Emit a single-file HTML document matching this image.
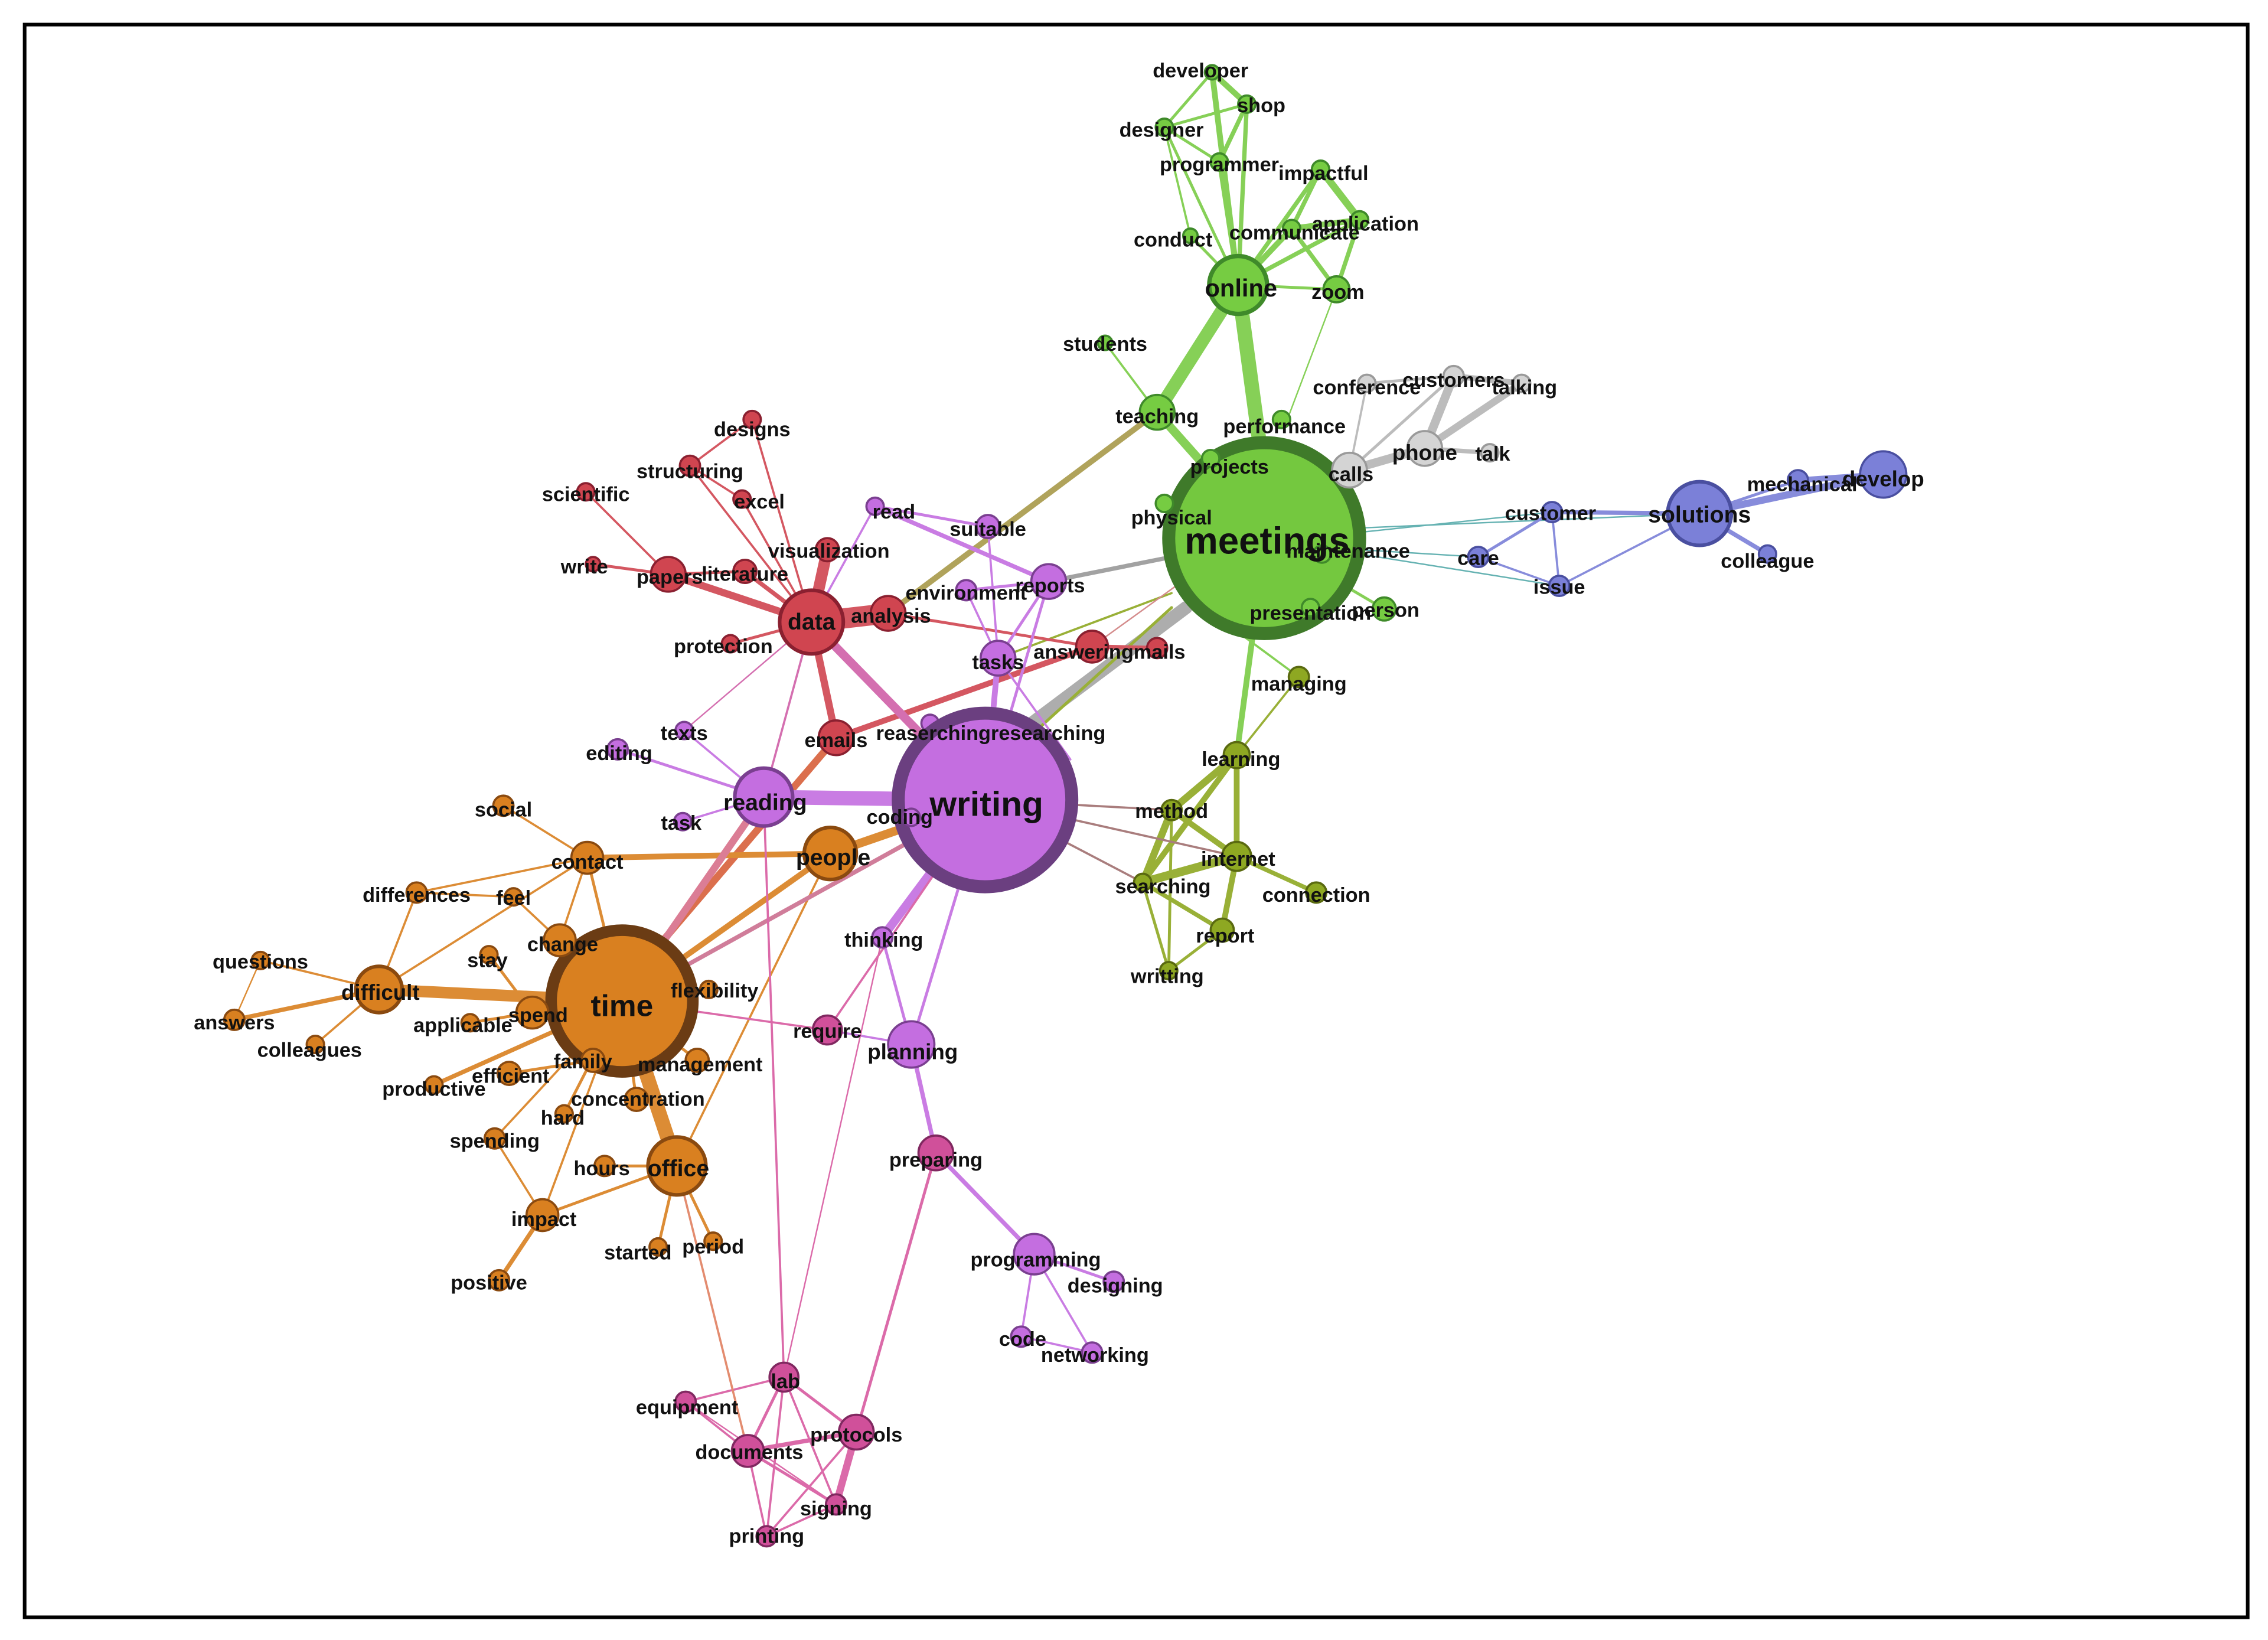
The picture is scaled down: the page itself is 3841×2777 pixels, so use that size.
<!DOCTYPE html>
<html><head><meta charset="utf-8"><style>
html,body{margin:0;padding:0;background:#fff;}
svg{display:block}
text{font-family:"Liberation Sans",Arial,sans-serif;font-weight:bold;fill:#111;text-anchor:middle;dominant-baseline:central;font-size:14px}
</style></head><body>
<svg width="3841" height="2777" viewBox="0 0 1568 1133.7" xmlns="http://www.w3.org/2000/svg">
<rect x="0" y="0" width="1568" height="1134" fill="#fff"/>
<rect x="17" y="17" width="1537" height="1101" fill="none" stroke="#000" stroke-width="2.5"/>
<g stroke-linecap="round" fill="none" opacity="0.9">
<!-- green -->
<g stroke="#7acc45">
<line x1="856" y1="197" x2="874" y2="330" stroke-width="10"/>
<line x1="856" y1="197" x2="800" y2="285" stroke-width="9"/>
<line x1="800" y1="285" x2="840" y2="330" stroke-width="6"/>
<line x1="856" y1="197" x2="838" y2="50" stroke-width="4"/>
<line x1="856" y1="197" x2="862" y2="72" stroke-width="3"/>
<line x1="856" y1="197" x2="843" y2="112" stroke-width="3"/>
<line x1="856" y1="197" x2="805" y2="88" stroke-width="2"/>
<line x1="838" y1="50" x2="862" y2="72" stroke-width="4"/>
<line x1="838" y1="50" x2="805" y2="88" stroke-width="2"/>
<line x1="805" y1="88" x2="843" y2="112" stroke-width="2"/>
<line x1="843" y1="112" x2="862" y2="72" stroke-width="3"/>
<line x1="805" y1="88" x2="862" y2="72" stroke-width="2"/>
<line x1="856" y1="197" x2="913" y2="117" stroke-width="3"/>
<line x1="913" y1="117" x2="940" y2="152" stroke-width="5"/>
<line x1="913" y1="117" x2="893" y2="158" stroke-width="3"/>
<line x1="940" y1="152" x2="893" y2="158" stroke-width="4"/>
<line x1="940" y1="152" x2="924" y2="200" stroke-width="3"/>
<line x1="893" y1="158" x2="924" y2="200" stroke-width="3"/>
<line x1="856" y1="197" x2="893" y2="158" stroke-width="4"/>
<line x1="856" y1="197" x2="940" y2="152" stroke-width="3"/>
<line x1="856" y1="197" x2="924" y2="200" stroke-width="2"/>
<line x1="856" y1="197" x2="823" y2="163" stroke-width="2"/>
<line x1="823" y1="163" x2="805" y2="88" stroke-width="1.5"/>
<line x1="924" y1="200" x2="890" y2="290" stroke-width="1"/>
<line x1="764" y1="237" x2="800" y2="285" stroke-width="1.5"/>
<line x1="874" y1="372" x2="957" y2="421" stroke-width="2"/>
</g>
<line x1="800" y1="285" x2="614" y2="424" stroke="#a89a4a" stroke-width="4"/>
<!-- grey -->
<g stroke="#b5b5b5">
<line x1="820" y1="420" x2="700" y2="510" stroke-width="9" stroke="#a5a5a5"/>
<line x1="810" y1="385" x2="725" y2="402" stroke-width="3" stroke="#999"/>
<line x1="874" y1="372" x2="933" y2="325" stroke-width="7"/>
<line x1="933" y1="325" x2="985" y2="310" stroke-width="6"/>
<line x1="985" y1="310" x2="1005" y2="260" stroke-width="6"/>
<line x1="985" y1="310" x2="1030" y2="313" stroke-width="3"/>
<line x1="1005" y1="260" x2="1052" y2="265" stroke-width="4"/>
<line x1="985" y1="310" x2="1052" y2="265" stroke-width="5"/>
<line x1="1005" y1="260" x2="945" y2="265" stroke-width="2"/>
<line x1="933" y1="325" x2="945" y2="265" stroke-width="1.5"/>
<line x1="933" y1="325" x2="1005" y2="260" stroke-width="2"/>
</g>
<!-- blue -->
<g stroke="#7b80d8">
<line x1="940" y1="365" x2="1175" y2="355" stroke-width="1" stroke="#5aa"/>
<line x1="940" y1="368" x2="1073" y2="354" stroke-width="1" stroke="#5aa"/>
<line x1="940" y1="380" x2="1022" y2="385" stroke-width="1" stroke="#5aa"/>
<line x1="940" y1="383" x2="1078" y2="405" stroke-width="1" stroke="#5aa"/>
<line x1="1175" y1="355" x2="1302" y2="328" stroke-width="5"/>
<line x1="1175" y1="355" x2="1243" y2="332" stroke-width="2"/>
<line x1="1243" y1="332" x2="1302" y2="328" stroke-width="4"/>
<line x1="1175" y1="355" x2="1073" y2="354" stroke-width="3"/>
<line x1="1175" y1="355" x2="1222" y2="383" stroke-width="3"/>
<line x1="1175" y1="355" x2="1078" y2="405" stroke-width="1.5"/>
<line x1="1073" y1="354" x2="1022" y2="385" stroke-width="2"/>
<line x1="1073" y1="354" x2="1078" y2="405" stroke-width="1.5"/>
<line x1="1022" y1="385" x2="1078" y2="405" stroke-width="1.5"/>
</g>
<!-- olive -->
<g stroke="#8ea822">
<line x1="866" y1="440" x2="855" y2="522" stroke-width="4" stroke="#7acc45"/>
<line x1="860" y1="440" x2="898" y2="468" stroke-width="1.5" stroke="#7acc45"/>
<line x1="898" y1="468" x2="855" y2="522" stroke-width="1.5"/>
<line x1="855" y1="522" x2="810" y2="560" stroke-width="5"/>
<line x1="855" y1="522" x2="855" y2="592" stroke-width="4"/>
<line x1="855" y1="522" x2="790" y2="610" stroke-width="4"/>
<line x1="810" y1="560" x2="855" y2="592" stroke-width="4"/>
<line x1="810" y1="560" x2="790" y2="610" stroke-width="5"/>
<line x1="855" y1="592" x2="790" y2="610" stroke-width="6"/>
<line x1="855" y1="592" x2="910" y2="617" stroke-width="3"/>
<line x1="855" y1="592" x2="845" y2="643" stroke-width="4"/>
<line x1="790" y1="610" x2="845" y2="643" stroke-width="3"/>
<line x1="845" y1="643" x2="808" y2="671" stroke-width="2"/>
<line x1="790" y1="610" x2="808" y2="671" stroke-width="2"/>
<line x1="810" y1="560" x2="808" y2="671" stroke-width="2"/>
<line x1="810" y1="420" x2="700" y2="520" stroke-width="2"/>
<line x1="810" y1="410" x2="690" y2="455" stroke-width="1.5"/>
</g>
<g stroke="#a07070" stroke-width="1.5">
<line x1="681" y1="553" x2="810" y2="560"/>
<line x1="681" y1="553" x2="855" y2="592"/>
<line x1="681" y1="553" x2="790" y2="610"/>
</g>
<!-- red -->
<g stroke="#d04550">
<line x1="561" y1="430" x2="614" y2="424" stroke-width="14"/>
<line x1="561" y1="430" x2="572" y2="380" stroke-width="8"/>
<line x1="561" y1="430" x2="515" y2="395" stroke-width="3"/>
<line x1="561" y1="430" x2="462" y2="397" stroke-width="5"/>
<line x1="462" y1="397" x2="410" y2="390" stroke-width="2"/>
<line x1="462" y1="397" x2="405" y2="340" stroke-width="1.5"/>
<line x1="462" y1="397" x2="515" y2="395" stroke-width="2"/>
<line x1="561" y1="430" x2="477" y2="322" stroke-width="1.5"/>
<line x1="477" y1="322" x2="520" y2="290" stroke-width="1.5"/>
<line x1="561" y1="430" x2="520" y2="290" stroke-width="1.5"/>
<line x1="561" y1="430" x2="513" y2="345" stroke-width="1.5"/>
<line x1="513" y1="345" x2="477" y2="322" stroke-width="1.5"/>
<line x1="561" y1="430" x2="505" y2="445" stroke-width="2"/>
<line x1="561" y1="430" x2="578" y2="510" stroke-width="5"/>
<line x1="578" y1="510" x2="755" y2="447" stroke-width="4"/>
<line x1="755" y1="447" x2="800" y2="448" stroke-width="3"/>
<line x1="755" y1="447" x2="820" y2="400" stroke-width="1" stroke="#d08080"/>
<line x1="578" y1="510" x2="450" y2="660" stroke-width="5" stroke="#d8603a"/>
<line x1="561" y1="430" x2="681" y2="553" stroke-width="6" stroke="#d060a8"/>
<line x1="614" y1="424" x2="755" y2="447" stroke-width="2"/>
</g>
<!-- purple -->
<g stroke="#c46ee0">
<line x1="528" y1="551" x2="681" y2="553" stroke-width="10"/>
<line x1="528" y1="551" x2="473" y2="505" stroke-width="1.5"/>
<line x1="528" y1="551" x2="427" y2="518" stroke-width="2"/>
<line x1="528" y1="551" x2="472" y2="568" stroke-width="1.5"/>
<line x1="528" y1="551" x2="561" y2="430" stroke-width="1.5" stroke="#d060a8"/>
<line x1="681" y1="553" x2="690" y2="455" stroke-width="4"/>
<line x1="690" y1="455" x2="725" y2="402" stroke-width="2"/>
<line x1="690" y1="455" x2="683" y2="364" stroke-width="1.5"/>
<line x1="690" y1="455" x2="668" y2="408" stroke-width="1.5"/>
<line x1="681" y1="553" x2="725" y2="402" stroke-width="2"/>
<line x1="683" y1="364" x2="605" y2="350" stroke-width="2"/>
<line x1="605" y1="350" x2="561" y2="430" stroke-width="1.5"/>
<line x1="605" y1="350" x2="725" y2="402" stroke-width="3"/>
<line x1="725" y1="402" x2="668" y2="408" stroke-width="2"/>
<line x1="690" y1="455" x2="740" y2="525" stroke-width="1.5"/>
<line x1="681" y1="553" x2="610" y2="648" stroke-width="6"/>
<line x1="610" y1="648" x2="630" y2="722" stroke-width="2"/>
<line x1="681" y1="553" x2="630" y2="722" stroke-width="2"/>
<line x1="630" y1="722" x2="647" y2="797" stroke-width="3"/>
<line x1="647" y1="797" x2="715" y2="867" stroke-width="3"/>
<line x1="715" y1="867" x2="770" y2="886" stroke-width="2"/>
<line x1="715" y1="867" x2="706" y2="924" stroke-width="1.5"/>
<line x1="715" y1="867" x2="755" y2="935" stroke-width="1.5"/>
<line x1="706" y1="924" x2="755" y2="935" stroke-width="1.5"/>
<line x1="681" y1="553" x2="640" y2="563" stroke-width="2"/>
<line x1="561" y1="430" x2="473" y2="505" stroke-width="1" stroke="#d060a8"/>
</g>
<!-- orange -->
<g stroke="#d98020">
<line x1="430" y1="692" x2="262" y2="684" stroke-width="8"/>
<line x1="262" y1="684" x2="180" y2="664" stroke-width="1.5"/>
<line x1="262" y1="684" x2="162" y2="705" stroke-width="3"/>
<line x1="262" y1="684" x2="218" y2="722" stroke-width="1.5"/>
<line x1="180" y1="664" x2="162" y2="705" stroke-width="1"/>
<line x1="262" y1="684" x2="288" y2="617" stroke-width="1.5"/>
<line x1="262" y1="684" x2="406" y2="593" stroke-width="1.5"/>
<line x1="430" y1="692" x2="406" y2="593" stroke-width="2"/>
<line x1="406" y1="593" x2="574" y2="590" stroke-width="4"/>
<line x1="406" y1="593" x2="348" y2="557" stroke-width="1.5"/>
<line x1="406" y1="593" x2="288" y2="617" stroke-width="1.5"/>
<line x1="406" y1="593" x2="387" y2="650" stroke-width="1.5"/>
<line x1="430" y1="692" x2="387" y2="650" stroke-width="3"/>
<line x1="387" y1="650" x2="355" y2="620" stroke-width="1.5"/>
<line x1="355" y1="620" x2="288" y2="617" stroke-width="1.5"/>
<line x1="430" y1="692" x2="368" y2="700" stroke-width="8"/>
<line x1="368" y1="700" x2="338" y2="660" stroke-width="2"/>
<line x1="368" y1="700" x2="325" y2="707" stroke-width="2"/>
<line x1="430" y1="692" x2="468" y2="806" stroke-width="10"/>
<line x1="468" y1="806" x2="418" y2="806" stroke-width="2"/>
<line x1="468" y1="806" x2="375" y2="840" stroke-width="2"/>
<line x1="468" y1="806" x2="493" y2="858" stroke-width="2"/>
<line x1="468" y1="806" x2="455" y2="862" stroke-width="2"/>
<line x1="375" y1="840" x2="345" y2="885" stroke-width="3"/>
<line x1="375" y1="840" x2="342" y2="787" stroke-width="1.5"/>
<line x1="430" y1="692" x2="375" y2="840" stroke-width="1.5"/>
<line x1="430" y1="692" x2="410" y2="733" stroke-width="2"/>
<line x1="410" y1="733" x2="352" y2="742" stroke-width="2"/>
<line x1="430" y1="692" x2="300" y2="750" stroke-width="3"/>
<line x1="430" y1="692" x2="482" y2="733" stroke-width="2"/>
<line x1="430" y1="692" x2="440" y2="760" stroke-width="2"/>
<line x1="430" y1="692" x2="390" y2="770" stroke-width="2"/>
<line x1="430" y1="692" x2="342" y2="787" stroke-width="1.5"/>
<line x1="430" y1="692" x2="574" y2="590" stroke-width="4"/>
<line x1="574" y1="590" x2="681" y2="553" stroke-width="6"/>
<line x1="574" y1="590" x2="468" y2="806" stroke-width="1.5"/>
<line x1="430" y1="692" x2="490" y2="684" stroke-width="1.5"/>
<line x1="430" y1="692" x2="528" y2="551" stroke-width="5" stroke="#d8708a"/>
</g>
<!-- magenta -->
<g stroke="#d85aa0">
<line x1="430" y1="692" x2="681" y2="553" stroke-width="3" stroke="#cc7090"/>
<line x1="572" y1="712" x2="681" y2="553" stroke-width="1.5"/>
<line x1="572" y1="712" x2="430" y2="692" stroke-width="1.5"/>
<line x1="572" y1="712" x2="630" y2="722" stroke-width="1.5" stroke="#c46ee0"/>
<line x1="528" y1="551" x2="542" y2="952" stroke-width="1.5"/>
<line x1="542" y1="952" x2="474" y2="969" stroke-width="1.5"/>
<line x1="542" y1="952" x2="517" y2="1003" stroke-width="2"/>
<line x1="542" y1="952" x2="592" y2="990" stroke-width="2"/>
<line x1="542" y1="952" x2="578" y2="1040" stroke-width="1.5"/>
<line x1="542" y1="952" x2="530" y2="1062" stroke-width="1.5"/>
<line x1="517" y1="1003" x2="592" y2="990" stroke-width="3"/>
<line x1="517" y1="1003" x2="578" y2="1040" stroke-width="2"/>
<line x1="517" y1="1003" x2="530" y2="1062" stroke-width="1.5"/>
<line x1="592" y1="990" x2="578" y2="1040" stroke-width="5"/>
<line x1="592" y1="990" x2="530" y2="1062" stroke-width="1.5"/>
<line x1="530" y1="1062" x2="578" y2="1040" stroke-width="1.5"/>
<line x1="474" y1="969" x2="517" y2="1003" stroke-width="1.5"/>
<line x1="474" y1="969" x2="578" y2="1040" stroke-width="1"/>
<line x1="647" y1="797" x2="592" y2="990" stroke-width="2"/>
<line x1="610" y1="648" x2="542" y2="952" stroke-width="1"/>
<line x1="468" y1="806" x2="517" y2="1003" stroke-width="1.5" stroke="#e08060"/>
</g>
</g>
<!-- nodes -->
<g stroke-width="1.5">
<g fill="#76cc42" stroke="#3f8a2a">
<circle cx="838" cy="50" r="5"/><circle cx="862" cy="72" r="6"/><circle cx="805" cy="88" r="6"/><circle cx="843" cy="112" r="6"/>
<circle cx="913" cy="117" r="6"/><circle cx="893" cy="158" r="6"/><circle cx="940" cy="152" r="6"/><circle cx="823" cy="163" r="5"/>
<circle cx="856" cy="197" r="20" stroke-width="3"/><circle cx="924" cy="200" r="9"/><circle cx="764" cy="237" r="5"/>
<circle cx="800" cy="285" r="12"/><circle cx="886" cy="290" r="6"/>
<circle cx="874" cy="372" r="66" stroke="#3f7a2a" stroke-width="9" fill="#74c83f"/>
<circle cx="837" cy="317" r="6"/><circle cx="805" cy="348" r="6"/><circle cx="914" cy="383" r="6"/><circle cx="906" cy="420" r="6"/><circle cx="957" cy="421" r="8"/>
</g>
<g fill="#d4d4d4" stroke="#9a9a9a">
<circle cx="945" cy="265" r="6"/><circle cx="1005" cy="260" r="7"/><circle cx="1052" cy="265" r="6"/>
<circle cx="985" cy="310" r="12"/><circle cx="1030" cy="313" r="6"/><circle cx="933" cy="325" r="12"/>
</g>
<g fill="#7b80d8" stroke="#4a4fa0">
<circle cx="1175" cy="355" r="22" stroke-width="2.5"/><circle cx="1302" cy="328" r="16"/><circle cx="1243" cy="332" r="7"/>
<circle cx="1073" cy="354" r="7"/><circle cx="1022" cy="385" r="7"/><circle cx="1078" cy="405" r="7"/><circle cx="1222" cy="383" r="6"/>
</g>
<g fill="#8ea822" stroke="#5a6a10">
<circle cx="898" cy="468" r="7"/><circle cx="855" cy="522" r="9"/><circle cx="810" cy="560" r="7"/><circle cx="855" cy="592" r="10"/>
<circle cx="910" cy="617" r="7"/><circle cx="790" cy="610" r="6"/><circle cx="845" cy="643" r="8"/><circle cx="808" cy="671" r="6"/>
</g>
<g fill="#d04550" stroke="#8a2030">
<circle cx="520" cy="290" r="6"/><circle cx="477" cy="322" r="7"/><circle cx="405" cy="340" r="6"/><circle cx="513" cy="345" r="6"/>
<circle cx="410" cy="390" r="5"/><circle cx="462" cy="397" r="12"/><circle cx="515" cy="395" r="8"/><circle cx="572" cy="380" r="8"/>
<circle cx="561" cy="430" r="22" stroke-width="2.5"/><circle cx="614" cy="424" r="12"/><circle cx="505" cy="445" r="6"/>
<circle cx="578" cy="510" r="12"/><circle cx="755" cy="447" r="11"/><circle cx="800" cy="448" r="7"/>
</g>
<g fill="#c46ee0" stroke="#7a3f90">
<circle cx="605" cy="350" r="6"/><circle cx="683" cy="364" r="8"/><circle cx="668" cy="408" r="7"/><circle cx="725" cy="402" r="12"/>
<circle cx="690" cy="455" r="12"/><circle cx="643" cy="500" r="6"/><circle cx="695" cy="500" r="6"/>
<circle cx="681" cy="553" r="60" stroke="#6b3f80" stroke-width="9" fill="#c46ee0"/>
<circle cx="630" cy="565" r="6"/><circle cx="528" cy="551" r="20" stroke-width="2.5"/><circle cx="473" cy="505" r="6"/>
<circle cx="427" cy="518" r="7"/><circle cx="472" cy="568" r="6"/><circle cx="610" cy="648" r="7"/><circle cx="630" cy="722" r="16"/>
<circle cx="715" cy="867" r="14"/><circle cx="770" cy="886" r="7"/><circle cx="706" cy="924" r="7"/><circle cx="755" cy="935" r="7"/>
</g>
<g fill="#d0509a" stroke="#802860">
<circle cx="572" cy="712" r="10"/><circle cx="647" cy="797" r="12"/><circle cx="542" cy="952" r="10"/><circle cx="474" cy="969" r="7"/>
<circle cx="517" cy="1003" r="11"/><circle cx="592" cy="990" r="12"/><circle cx="578" cy="1040" r="7"/><circle cx="530" cy="1062" r="7"/>
</g>
<g fill="#d98020" stroke="#8a4a10">
<circle cx="430" cy="692" r="49" stroke="#6b3c14" stroke-width="8" fill="#d98020"/>
<circle cx="348" cy="557" r="7"/><circle cx="406" cy="593" r="11"/><circle cx="574" cy="590" r="18" stroke-width="2.5"/>
<circle cx="288" cy="617" r="7"/><circle cx="355" cy="620" r="6"/><circle cx="387" cy="650" r="11"/><circle cx="338" cy="660" r="6"/>
<circle cx="180" cy="664" r="6"/><circle cx="262" cy="684" r="16" stroke-width="2.5"/><circle cx="162" cy="705" r="7"/><circle cx="218" cy="722" r="6"/>
<circle cx="325" cy="707" r="6"/><circle cx="368" cy="700" r="11"/><circle cx="490" cy="684" r="6"/><circle cx="410" cy="733" r="8"/>
<circle cx="482" cy="733" r="8"/><circle cx="352" cy="742" r="8"/><circle cx="300" cy="750" r="6"/><circle cx="440" cy="760" r="8"/>
<circle cx="390" cy="770" r="6"/><circle cx="342" cy="787" r="7"/><circle cx="418" cy="806" r="7"/><circle cx="468" cy="806" r="20" stroke-width="2.5"/>
<circle cx="375" cy="840" r="11"/><circle cx="455" cy="862" r="6"/><circle cx="493" cy="858" r="6"/><circle cx="345" cy="885" r="7"/>
</g>
</g>
<!-- labels -->
<g>
<text x="830" y="49">developer</text><text x="872" y="73">shop</text><text x="803" y="90">designer</text><text x="843" y="114">programmer</text>
<text x="915" y="120">impactful</text><text x="895" y="161">communicate</text><text x="944" y="155">application</text><text x="811" y="166">conduct</text>
<text x="858" y="199" style="font-size:17px">online</text><text x="925" y="202">zoom</text><text x="764" y="238">students</text>
<text x="800" y="288">teaching</text><text x="888" y="295">performance</text><text x="850" y="323">projects</text>
<text x="945" y="268">conference</text><text x="1005" y="263">customers</text><text x="1054" y="268">talking</text>
<text x="985" y="313" style="font-size:15px">phone</text><text x="1032" y="314">talk</text><text x="934" y="328">calls</text>
<text x="810" y="358">physical</text><text x="876" y="374" style="font-size:26px">meetings</text><text x="932" y="381">maintenance</text>
<text x="906" y="424">presentation</text><text x="958" y="422">person</text>
<text x="1072" y="355">customer</text><text x="1175" y="356" style="font-size:16px">solutions</text><text x="1246" y="335">mechanical</text>
<text x="1302" y="331" style="font-size:15px">develop</text><text x="1022" y="386">care</text><text x="1078" y="406">issue</text><text x="1222" y="388">colleague</text>
<text x="898" y="473">managing</text><text x="858" y="525">learning</text><text x="810" y="561">method</text><text x="856" y="594">internet</text>
<text x="910" y="619">connection</text><text x="804" y="613">searching</text><text x="847" y="647">report</text><text x="807" y="675">writting</text>
<text x="520" y="297">designs</text><text x="477" y="326">structuring</text><text x="405" y="342">scientific</text><text x="525" y="347">excel</text>
<text x="404" y="392">write</text><text x="463" y="399">papers</text><text x="515" y="397">literature</text><text x="573" y="381">visualization</text>
<text x="561" y="430" style="font-size:16px">data</text><text x="616" y="426">analysis</text><text x="500" y="447">protection</text>
<text x="578" y="512">emails</text><text x="767" y="451">answeringmails</text>
<text x="618" y="354">read</text><text x="683" y="366">suitable</text><text x="668" y="410">environment</text><text x="726" y="405">reports</text>
<text x="690" y="458">tasks</text><text x="685" y="507">reaserchingresearching</text>
<text x="682" y="556" style="font-size:24px">writing</text><text x="622" y="565">coding</text><text x="529" y="555" style="font-size:16px">reading</text>
<text x="473" y="507">texts</text><text x="428" y="521">editing</text><text x="471" y="569">task</text><text x="611" y="650">thinking</text>
<text x="631" y="727" style="font-size:15px">planning</text><text x="572" y="713">require</text><text x="647" y="802">preparing</text>
<text x="716" y="871">programming</text><text x="771" y="889">designing</text><text x="707" y="926">code</text><text x="757" y="937">networking</text>
<text x="543" y="955">lab</text><text x="475" y="973">equipment</text><text x="518" y="1004">documents</text><text x="592" y="992">protocols</text>
<text x="578" y="1043">signing</text><text x="530" y="1062">printing</text>
<text x="430" y="695" style="font-size:21px">time</text><text x="348" y="560">social</text><text x="406" y="596">contact</text>
<text x="576" y="593" style="font-size:16px">people</text><text x="288" y="619">differences</text><text x="355" y="621">feel</text>
<text x="389" y="653">change</text><text x="337" y="664">stay</text><text x="180" y="665">questions</text><text x="263" y="686" style="font-size:15px">difficult</text>
<text x="162" y="707">answers</text><text x="214" y="726">colleagues</text><text x="320" y="709">applicable</text><text x="372" y="702">spend</text>
<text x="494" y="685">flexibility</text><text x="403" y="734">family</text><text x="484" y="736">management</text><text x="353" y="744">efficient</text>
<text x="300" y="753">productive</text><text x="441" y="760">concentration</text><text x="389" y="773">hard</text><text x="342" y="789">spending</text>
<text x="416" y="808">hours</text><text x="469" y="808" style="font-size:16px">office</text><text x="376" y="843">impact</text>
<text x="441" y="866">started</text><text x="493" y="862">period</text><text x="338" y="887">positive</text>
</g>
</svg>
</body></html>
